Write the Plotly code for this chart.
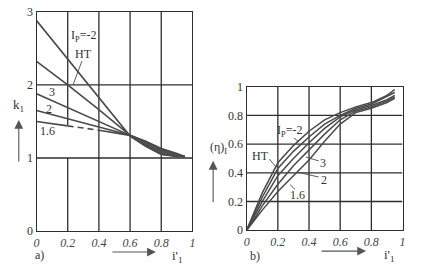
import plotly.graph_objects as go

# ---- data: panel a) k1 vs i'1 ----
xa = [0, 0.2, 0.4, 0.6, 0.7, 0.8, 0.9, 0.95]
ka_m2 = [2.88, 2.35, 1.82, 1.30, 1.16, 1.05, 1.02, 1.02]
ka_ht = [2.32, 2.00, 1.66, 1.31, 1.18, 1.07, 1.03, 1.02]
ka_3 = [1.88, 1.69, 1.50, 1.31, 1.20, 1.09, 1.04, 1.02]
ka_2 = [1.65, 1.54, 1.43, 1.31, 1.22, 1.12, 1.05, 1.02]
ka_16 = [1.50, 1.44, 1.38, 1.31, 1.23, 1.13, 1.06, 1.02]

# ---- data: panel b) (eta)I vs i'1 ----
xb = [0, 0.05, 0.1, 0.2, 0.3, 0.4, 0.5, 0.6, 0.7, 0.8, 0.9, 0.95]
eb_m2 = [0, 0.13, 0.26, 0.47, 0.59, 0.69, 0.77, 0.82, 0.86, 0.89, 0.94, 0.98]
eb_ht = [0, 0.12, 0.23, 0.43, 0.55, 0.65, 0.74, 0.80, 0.85, 0.88, 0.93, 0.96]
eb_3 = [0, 0.10, 0.20, 0.38, 0.50, 0.61, 0.71, 0.79, 0.84, 0.87, 0.91, 0.94]
eb_2 = [0, 0.08, 0.17, 0.32, 0.45, 0.56, 0.67, 0.77, 0.83, 0.86, 0.90, 0.93]
eb_16 = [0, 0.07, 0.14, 0.27, 0.38, 0.49, 0.62, 0.74, 0.82, 0.85, 0.89, 0.92]

xticks = [0, 0.2, 0.4, 0.6, 0.8, 1]
xtick_text = ["0", "0.2", "0.4", "0.6", "0.8", "1"]
ya_ticks = [0, 1, 2, 3]
yb_ticks = [0, 0.2, 0.4, 0.6, 0.8, 1]
yb_text = ["0", "0.2", "0.4", "0.6", "0.8", "1"]

LC = "#4a4a4a"
GC = "#2e2e2e"
FONT = "Liberation Serif"

fig = go.Figure()

def line(x, y, xa_, ya_, dash="solid", w=1.6, **kw):
    fig.add_trace(go.Scatter(x=x, y=y, mode="lines", xaxis=xa_, yaxis=ya_,
                             line=dict(color=LC, width=w, dash=dash),
                             showlegend=False, hoverinfo="skip", **kw))

# panel a curves
line(xa, ka_m2, "x", "y")
line(xa, ka_ht, "x", "y")
line(xa, ka_3, "x", "y")
line(xa, ka_2, "x", "y")
line(xa[:2], ka_16[:2], "x", "y")
line(xa[1:3], ka_16[1:3], "x", "y", dash="6px,4px")
line(xa[2:], ka_16[2:], "x", "y")
# dark converging wedge
line(xa[3:], ka_m2[3:], "x", "y", w=1)
fig.add_trace(go.Scatter(x=xa[3:], y=ka_16[3:], mode="lines", xaxis="x", yaxis="y",
                         fill="tonexty", fillcolor="#4f4f4f",
                         line=dict(color=LC, width=1), showlegend=False, hoverinfo="skip"))

# panel b curves
for e in (eb_m2, eb_ht, eb_3, eb_2, eb_16):
    line(xb, e, "x2", "y2", w=1.5)

# grid shapes
shapes = []
def seg(x0, y0, x1, y1, xr, yr, w=1.3, c=GC):
    shapes.append(dict(type="line", x0=x0, y0=y0, x1=x1, y1=y1, xref=xr, yref=yr,
                       line=dict(color=c, width=w), layer="below"))

# panel a grid
seg(0.2, 0, 0.2, 1, "x", "y")
seg(0.2, 1.45, 0.2, 3, "x", "y")
for gx in (0.4, 0.6, 0.8):
    seg(gx, 0, gx, 3, "x", "y")
for gy in (1, 2):
    seg(0, gy, 1, gy, "x", "y")
# panel b grid
for g in (0.2, 0.4, 0.6, 0.8):
    seg(g, 0, g, 1, "x2", "y2")
    seg(0, g, 1, g, "x2", "y2")

# leader lines (paper coords from pixels)
W, H = 445, 279
def pseg(px0, py0, px1, py1, w=0.9):
    shapes.append(dict(type="line", x0=px0 / W, y0=1 - py0 / H, x1=px1 / W, y1=1 - py1 / H,
                       xref="paper", yref="paper", line=dict(color=LC, width=w)))
pseg(80, 57, 71, 82)       # HT (a)
pseg(270, 160, 277, 169)   # HT (b)
pseg(295, 138, 300, 142)   # Ip=-2 (b)
pseg(320, 162, 307, 158)   # 3 (b)
pseg(320, 179, 299, 174)   # 2 (b)
pseg(296, 192, 291, 187)   # 1.6 (b)

fig.update_layout(shapes=shapes)

ann = []
def txt(px, py, t, size=12):
    ann.append(dict(x=px / W, y=1 - py / H, xref="paper", yref="paper", text=t,
                    showarrow=False, font=dict(family=FONT, size=size, color="#333"),
                    xanchor="center", yanchor="middle"))

# panel a labels
txt(82, 31, "I<sub>P</sub>=-2", 12)
txt(82, 49, "HT", 12)
txt(50, 90, "3", 12)
txt(47, 107, "2", 12)
txt(45, 131, "1.6", 12)
txt(16, 104, "k<sub>1</sub>", 13)
txt(37, 261, "a)", 12)
txt(177, 263, "i'<sub>1</sub>", 13)
# panel b labels
txt(290, 131, "I<sub>P</sub>=-2", 12)
txt(261, 157, "HT", 12)
txt(324, 164, "3", 12)
txt(325, 182, "2", 12)
txt(299, 198, "1.6", 12)
txt(218, 148, "(η)<sub>I</sub>", 12)
txt(255, 262, "b)", 12)
txt(392, 262, "i'<sub>1</sub>", 13)

# arrows
def arrow(px0, py0, px1, py1):
    ann.append(dict(x=px1 / W, y=1 - py1 / H, ax=px0 - px1, ay=py0 - py1,
                    xref="paper", yref="paper", axref="pixel", ayref="pixel",
                    text="", showarrow=True, arrowhead=2, arrowsize=1.6,
                    arrowwidth=1.1, arrowcolor="#555"))
arrow(16, 162, 16, 119)
arrow(110, 258, 155, 258)
arrow(213, 205, 213, 162)
arrow(322, 257, 368, 257)

fig.update_layout(annotations=ann)

axis_common = dict(showgrid=False, zeroline=False, showline=True, mirror=True,
                   linecolor=GC, linewidth=1.3, ticks="")
yfont = dict(family=FONT, size=12, color="#333")
xfont = dict(family=FONT, size=12, color="#444", style="italic")

fig.update_layout(
    width=W, height=H,
    margin=dict(l=0, r=0, t=0, b=0),
    paper_bgcolor="white", plot_bgcolor="white",
    xaxis=dict(domain=[34 / W, 192 / W], range=[0, 1], tickvals=xticks, ticktext=xtick_text,
               anchor="y", tickfont=xfont, **axis_common),
    yaxis=dict(domain=[1 - 236 / H, 1 - 5 / H], range=[0, 3], tickvals=ya_ticks,
               anchor="x", tickfont=yfont, **axis_common),
    xaxis2=dict(domain=[247 / W, 405 / W], range=[0, 1], tickvals=xticks, ticktext=xtick_text,
                anchor="y2", tickfont=xfont, **axis_common),
    yaxis2=dict(domain=[1 - 235 / H, 1 - 84 / H], range=[0, 1], tickvals=yb_ticks, ticktext=yb_text,
                anchor="x2", tickfont=yfont, **axis_common),
)

fig.write_html("out.html")
